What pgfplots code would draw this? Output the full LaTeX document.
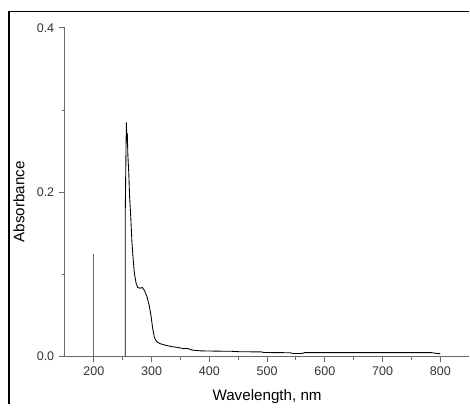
\documentclass[border=0pt]{standalone}
\usepackage{fontspec}
\setmainfont{Liberation Sans}
\usepackage{pgfplots}
\pgfplotsset{compat=1.18}
\definecolor{axisgray}{RGB}{105,105,105}
\begin{document}
\begin{tikzpicture}
\begin{axis}[
    at={(0,0)}, anchor=south west,
    scale only axis,
    width=303.75pt, height=246.75pt,
    xmin=150, xmax=850, ymin=0, ymax=0.4,
    axis x line*=bottom, axis y line*=left,
    axis line style={-, axisgray, line width=0.9pt},
    every tick/.style={axisgray, line width=0.8pt},
    tick align=outside,
    major tick length=4.5pt, minor tick length=2.5pt,
    xtick={200,300,...,800},
    minor xtick={250,350,...,750},
    ytick={0,0.2,0.4},
    minor ytick={0.1,0.3},
    yticklabel style={/pgf/number format/.cd, fixed, fixed zerofill, precision=1},
    /pgf/number format/assume math mode=true,
    tick label style={font=\fontsize{9.4}{11}\selectfont, text=black!80},
    xlabel={Wavelength, nm},
    ylabel={Absorbance},
    label style={font=\fontsize{11.4}{13}\selectfont},
    xlabel style={at={(axis description cs:0.5,-0.1207)}, anchor=center},
    ylabel style={at={(axis description cs:-0.1136,0.471)}, anchor=center},
    clip=false,
]
\addplot[axisgray, line width=0.75pt] coordinates {(200,0) (200,0.125)};
\addplot[black, line width=0.65pt] coordinates {
(254.5,0) (254.5,0.175) (256.0,0.265) (256.5,0.285) (257.2,0.262) (258.0,0.272)
(259.0,0.245) (260.5,0.225) (262.0,0.195) (264.0,0.170) (266.0,0.140)
(268.0,0.120) (270.0,0.103) (273.0,0.090) (276.0,0.084) (280.0,0.083)
(284.0,0.084) (288.0,0.080) (292.0,0.073) (296.0,0.062) (299.0,0.050)
(302.0,0.034) (305.0,0.023) (309.0,0.018) (315.0,0.0155) (325.0,0.0135)
(335.0,0.012) (345.0,0.011) (355.0,0.0095) (362.0,0.0098) (370.0,0.0078)
(385.0,0.0068) (400.0,0.0066) (420.0,0.0064) (435.0,0.0064) (450.0,0.0058)
(490.0,0.0055) (495.0,0.0048) (540.0,0.0045) (545.0,0.0036) (560.0,0.0036)
(565.0,0.0046) (700.0,0.0046) (785.0,0.0046) (790.0,0.0040) (800.0,0.0033)
};
\end{axis}
\draw[black, line width=1.1pt] (-42pt,-36pt) -- (-42pt,259.1pt) -- (303.75pt,259.1pt);
\useasboundingbox (-48.75pt,-36pt) rectangle (303.75pt,267.75pt);
\end{tikzpicture}
\end{document}
